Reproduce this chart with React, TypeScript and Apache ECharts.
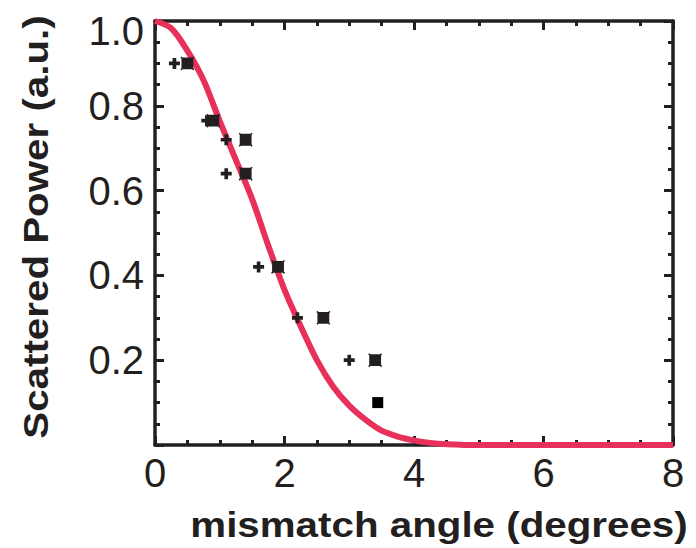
import React, { useEffect, useRef } from "react";
import * as echarts from "echarts";

// Measured data (mismatch angle in degrees, scattered power a.u.)
const plusX = [0.3, 0.8, 1.1, 1.1, 1.6, 2.2, 3.0];
const plusY = [0.9, 0.765, 0.72, 0.64, 0.42, 0.3, 0.2];
const squareX = [0.5, 0.9, 1.4, 1.4, 1.9, 2.6, 3.4];
const squareY = [0.9, 0.765, 0.72, 0.64, 0.42, 0.3, 0.2];
const solidX = [3.44];
const solidY = [0.1];

// Fitted curve
const curveX = [0, 0.25, 0.5, 0.75, 1.0, 1.25, 1.5, 1.75, 2.0, 2.25, 2.5, 2.75, 3.0, 3.25, 3.5, 3.75, 4.0, 4.25, 4.5, 5, 8];
const curveY = [1.0, 0.983, 0.93, 0.86, 0.764, 0.672, 0.58, 0.47, 0.366, 0.28, 0.2, 0.138, 0.093, 0.06, 0.034, 0.02, 0.011, 0.005, 0.002, 0, 0];

const xTicks = { min: 0, max: 8, interval: 2 };
const yTicks = { min: 0, max: 1, interval: 0.2 };

const xTitle = "mismatch angle (degrees)";
const yTitle = "Scattered Power (a.u.)";

const INK = "#231f20";
const RED = "#e8315a";
const FONT = "'Liberation Sans', Arial, Helvetica, sans-serif";

const PLUS = "path://M3,0 H6 V3 H9 V6 H6 V9 H3 V6 H0 V3 H3 Z";
const XSQUARE =
  "path://M1,0 L2,1 H11 L12,0 L13,1 L12,2 V11 L13,12 L12,13 L11,12 H2 L1,13 L0,12 L1,11 V2 L0,1 Z";

const zip = (a: number[], b: number[]) => a.map((v, i) => [v, b[i]]);

export default function App() {
  const ref = useRef<HTMLDivElement>(null);
  useEffect(() => {
    if (!ref.current) return;
    const chart = echarts.init(ref.current, null, { renderer: "svg" });
    const tickCommon = {
      axisLine: { show: true, onZero: false, lineStyle: { color: INK, width: 3.5 } },
      axisTick: { show: true, inside: true, length: 9, lineStyle: { color: INK, width: 3 } },
      minorTick: { show: true, splitNumber: 4, length: 5, lineStyle: { color: INK, width: 3 } },
      splitLine: { show: false },
      minorSplitLine: { show: false },
    };
    chart.setOption({
      animation: false,
      backgroundColor: "#ffffff",
      grid: { left: 155, right: 23, top: 21, bottom: 103, containLabel: false },
      xAxis: [
        {
          type: "value",
          position: "bottom",
          ...xTicks,
          ...tickCommon,
          axisLabel: {
            show: true,
            color: INK,
            fontSize: 40,
            fontFamily: FONT,
            margin: 8,
          },
        },
        {
          type: "value",
          position: "top",
          ...xTicks,
          ...tickCommon,
          axisLabel: { show: false },
        },
      ],
      yAxis: [
        {
          type: "value",
          position: "left",
          ...yTicks,
          ...tickCommon,
          axisLabel: {
            show: true,
            color: INK,
            fontSize: 40,
            fontFamily: FONT,
            margin: 11,
            formatter: (v: number) => {
              if (Math.abs(v) < 1e-9) return "";
              if (Math.abs(v - 1) < 1e-9) return "{t|1.0}";
              return v.toFixed(1);
            },
            rich: {
              t: { fontSize: 40, fontFamily: FONT, color: INK, padding: [19, 0, 0, 0] },
            },
          },
        },
        {
          type: "value",
          position: "right",
          ...yTicks,
          ...tickCommon,
          axisLabel: { show: false },
        },
      ],
      graphic: [
        {
          type: "text",
          x: 439,
          y: 524,
          scaleX: 1.12,
          style: {
            text: xTitle,
            fill: INK,
            font: `bold 36px ${FONT}`,
            textAlign: "center",
            textVerticalAlign: "middle",
          },
        },
        {
          type: "text",
          x: 35,
          y: 227,
          rotation: Math.PI / 2,
          scaleX: 1.12,
          style: {
            text: yTitle,
            fill: INK,
            font: `bold 36px ${FONT}`,
            textAlign: "center",
            textVerticalAlign: "middle",
          },
        },
      ],
      series: [
        {
          type: "line",
          data: zip(curveX, curveY),
          smooth: 0.3,
          showSymbol: false,
          lineStyle: { color: RED, width: 6 },
          z: 2,
        },
        {
          type: "scatter",
          data: zip(plusX, plusY),
          symbol: PLUS,
          symbolSize: 11,
          itemStyle: { color: INK, opacity: 1 },
          z: 3,
        },
        {
          type: "scatter",
          data: zip(squareX, squareY),
          symbol: XSQUARE,
          symbolSize: 14,
          itemStyle: { color: INK, opacity: 1 },
          z: 3,
        },
        {
          type: "scatter",
          data: zip(solidX, solidY),
          symbol: "rect",
          symbolSize: 11,
          itemStyle: { color: "#000000", opacity: 1 },
          z: 3,
        },
      ],
    });
    return () => chart.dispose();
  }, []);
  return (
    <div
      ref={ref}
      style={{ position: "fixed", left: 0, top: 0, width: 696, height: 548, background: "#fff" }}
    />
  );
}
